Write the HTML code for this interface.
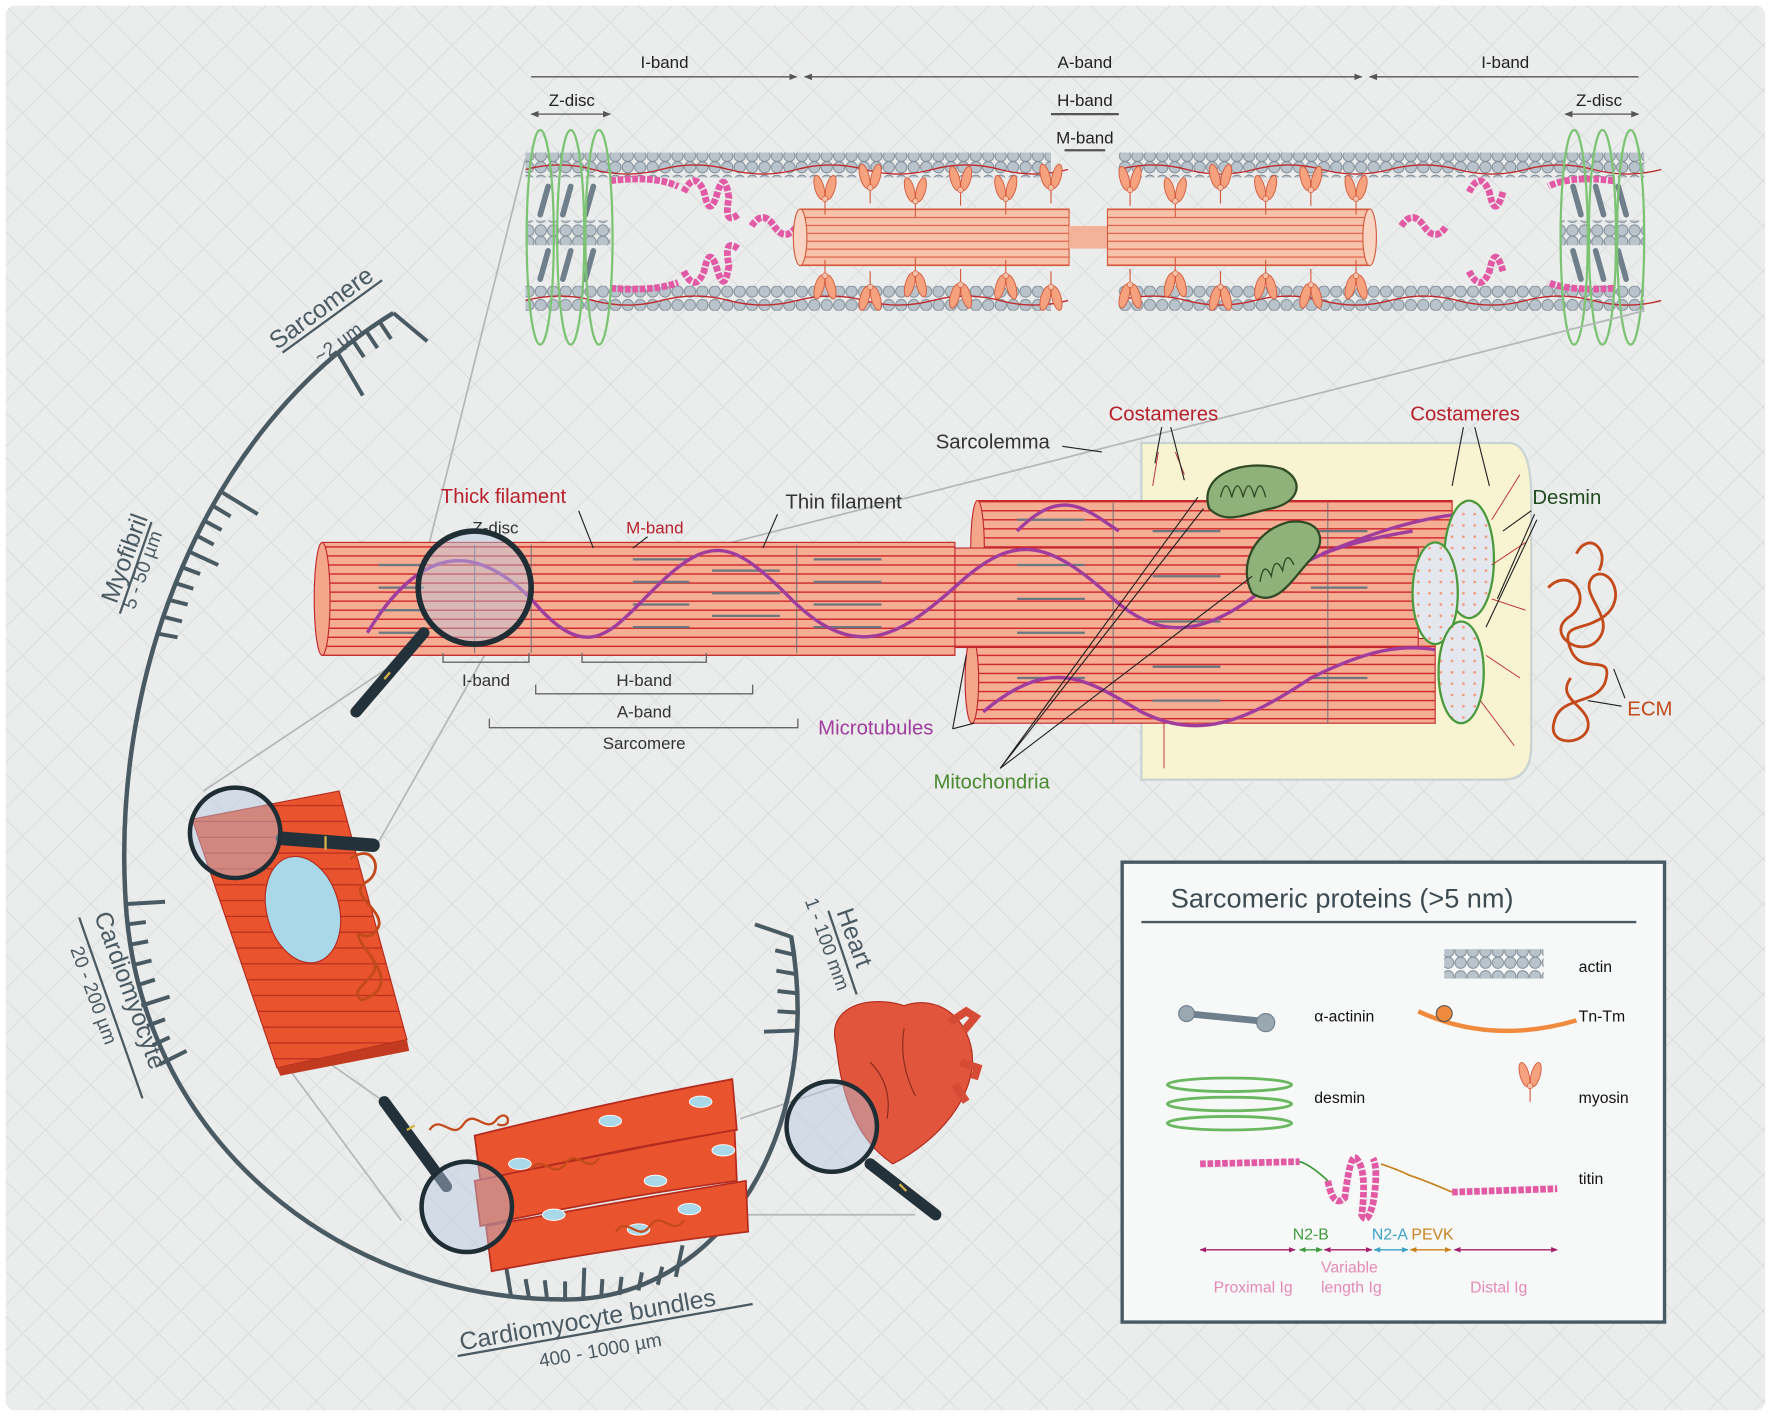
<!DOCTYPE html>
<html><head><meta charset="utf-8"><style>
html,body{margin:0;padding:0;background:#fff}
svg{display:block}
text{font-family:"Liberation Sans",Arial,sans-serif}
</style></head><body>
<svg width="1772" height="1417" viewBox="0 0 1568 1254" xmlns="http://www.w3.org/2000/svg">
<defs>
<pattern id="grid" width="40" height="40" patternUnits="userSpaceOnUse">
<path d="M0,0 L40,40 M40,0 L0,40" stroke="#dcdede" stroke-width="1"/>
</pattern>
<pattern id="beads" width="11" height="22" patternUnits="userSpaceOnUse">
<circle cx="5.5" cy="6" r="5" fill="#b9c3cb" stroke="#7d8a94" stroke-width="0.8"/>
<circle cx="5.5" cy="16" r="5" fill="#b9c3cb" stroke="#7d8a94" stroke-width="0.8"/>
</pattern>
<pattern id="stripes" width="20" height="8" patternUnits="userSpaceOnUse">
<rect width="20" height="8" fill="#f5ad93"/>
<line x1="0" y1="4" x2="20" y2="4" stroke="#d0282b" stroke-width="1.2"/>
</pattern>
<pattern id="thick" width="20" height="7" patternUnits="userSpaceOnUse">
<rect width="20" height="7" fill="#f7c2aa"/>
<line x1="0" y1="3.5" x2="20" y2="3.5" stroke="#e0614a" stroke-width="1"/>
</pattern>
<pattern id="slab" width="20" height="14" patternUnits="userSpaceOnUse">
<rect width="20" height="14" fill="#e9532e"/>
<line x1="0" y1="13" x2="20" y2="13" stroke="#b32a1e" stroke-width="1"/>
</pattern>
<pattern id="dots" width="10" height="10" patternUnits="userSpaceOnUse">
<rect width="10" height="10" fill="#e4e7ee"/>
<circle cx="5" cy="5" r="1.2" fill="#f09a7a"/>
</pattern>
<marker id="ar" viewBox="0 0 10 10" refX="9" refY="5" markerWidth="6" markerHeight="6" orient="auto-start-reverse"><path d="M0,1 L10,5 L0,9 z" fill="#555"/></marker>
<marker id="am" viewBox="0 0 10 10" refX="9" refY="5" markerWidth="5" markerHeight="5" orient="auto-start-reverse"><path d="M0,1 L10,5 L0,9 z" fill="#a3206e"/></marker>
<marker id="ag" viewBox="0 0 10 10" refX="9" refY="5" markerWidth="5" markerHeight="5" orient="auto-start-reverse"><path d="M0,1 L10,5 L0,9 z" fill="#3f9a3c"/></marker>
<marker id="ab" viewBox="0 0 10 10" refX="9" refY="5" markerWidth="5" markerHeight="5" orient="auto-start-reverse"><path d="M0,1 L10,5 L0,9 z" fill="#3ba3c8"/></marker>
<marker id="ao" viewBox="0 0 10 10" refX="9" refY="5" markerWidth="5" markerHeight="5" orient="auto-start-reverse"><path d="M0,1 L10,5 L0,9 z" fill="#c8821e"/></marker>
<g id="myo"><line x1="0" y1="0" x2="0" y2="-14" stroke="#d35a3c" stroke-width="1"/><ellipse cx="-5" cy="-24" rx="4" ry="11" fill="#f7a27f" stroke="#d35a3c" stroke-width="0.8" transform="rotate(-15 -5 -24)"/><ellipse cx="5" cy="-24" rx="4" ry="11" fill="#f7a27f" stroke="#d35a3c" stroke-width="0.8" transform="rotate(15 5 -24)"/><circle cx="0" cy="-14" r="2.5" fill="#f7c2aa" stroke="#d35a3c" stroke-width="0.6"/></g>
<g id="mag"><line x1="0" y1="0" x2="-60" y2="70" stroke="#23323a" stroke-width="10" stroke-linecap="round"/><line x1="-30" y1="35" x2="-35" y2="41" stroke="#d9b44a" stroke-width="2"/></g>
</defs>

<rect width="1568" height="1254" fill="#fff"/>
<rect x="5" y="5" width="1557" height="1243" rx="8" fill="#ebecec"/>
<rect x="5" y="5" width="1557" height="1243" rx="8" fill="url(#grid)"/>

<g font-size="15" fill="#222" text-anchor="middle">
<text x="588" y="60">I-band</text><text x="960" y="60">A-band</text><text x="1332" y="60">I-band</text>
<text x="506" y="94">Z-disc</text><text x="960" y="94">H-band</text><text x="960" y="127">M-band</text><text x="1415" y="94">Z-disc</text>
</g>
<g stroke="#555" stroke-width="1.2">
<line x1="470" y1="68" x2="705" y2="68" marker-end="url(#ar)"/>
<line x1="712" y1="68" x2="1205" y2="68" marker-start="url(#ar)" marker-end="url(#ar)"/>
<line x1="1212" y1="68" x2="1450" y2="68" marker-start="url(#ar)"/>
<line x1="470" y1="101" x2="540" y2="101" marker-start="url(#ar)" marker-end="url(#ar)"/>
<line x1="930" y1="101" x2="990" y2="101" stroke-width="2"/>
<line x1="942" y1="133" x2="978" y2="133" stroke-width="2"/>
<line x1="1385" y1="101" x2="1450" y2="101" marker-start="url(#ar)" marker-end="url(#ar)"/>
</g>

<g>
<rect x="465" y="135" width="465" height="22" fill="url(#beads)"/>
<rect x="990" y="135" width="465" height="22" fill="url(#beads)"/>
<rect x="465" y="253" width="465" height="22" fill="url(#beads)"/>
<rect x="990" y="253" width="465" height="22" fill="url(#beads)"/>
<rect x="465" y="195" width="75" height="22" fill="url(#beads)"/>
<rect x="1380" y="195" width="75" height="22" fill="url(#beads)"/>
<g stroke="#c0292c" stroke-width="1.2" fill="none">
<path d="M465,150 q30,-8 60,0 t60,0 t60,0 t60,0 t60,0 t60,0 t60,0 t60,0"/>
<path d="M990,150 q30,-8 60,0 t60,0 t60,0 t60,0 t60,0 t60,0 t60,0 t60,0"/>
<path d="M465,266 q30,-8 60,0 t60,0 t60,0 t60,0 t60,0 t60,0 t60,0 t60,0"/>
<path d="M990,266 q30,-8 60,0 t60,0 t60,0 t60,0 t60,0 t60,0 t60,0 t60,0"/>
</g>
<g stroke="#6f7f8b" stroke-width="5" stroke-linecap="round">
<line x1="485" y1="165" x2="478" y2="190"/><line x1="505" y1="165" x2="498" y2="190"/><line x1="525" y1="165" x2="518" y2="190"/>
<line x1="485" y1="222" x2="478" y2="247"/><line x1="505" y1="222" x2="498" y2="247"/><line x1="525" y1="222" x2="518" y2="247"/>
<line x1="1392" y1="165" x2="1399" y2="190"/><line x1="1412" y1="165" x2="1419" y2="190"/><line x1="1432" y1="165" x2="1439" y2="190"/>
<line x1="1392" y1="222" x2="1399" y2="247"/><line x1="1412" y1="222" x2="1419" y2="247"/><line x1="1432" y1="222" x2="1439" y2="247"/>
</g>
<g stroke="#e35aa4" stroke-width="6" fill="none" stroke-dasharray="5 1.5">
<path d="M540,160 Q580,155 600,165"/><path d="M540,255 Q580,258 600,250"/>
<path d="M605,170 q10,-20 18,0 q5,25 12,0 q6,-20 10,5 q-5,25 8,15"/>
<path d="M605,240 q10,20 18,0 q5,-25 12,0 q6,20 10,-5 q-5,-25 8,-15"/>
<path d="M665,200 q10,-15 20,0 q10,15 20,0"/>
<path d="M1428,160 Q1390,155 1370,165"/><path d="M1428,255 Q1390,258 1370,250"/>
<path d="M1300,170 q10,-20 18,0 q5,25 12,0"/><path d="M1300,240 q10,20 18,0 q5,-25 12,0"/>
<path d="M1240,200 q10,-15 20,0 q10,15 20,0"/>
</g>
<rect x="708" y="185" width="238" height="50" fill="url(#thick)" stroke="#d35a3c"/>
<ellipse cx="708" cy="210" rx="6" ry="25" fill="#f9d4c2" stroke="#d35a3c"/>
<rect x="946" y="200" width="34" height="20" fill="#f2b39a"/>
<rect x="980" y="185" width="232" height="50" fill="url(#thick)" stroke="#d35a3c"/>
<ellipse cx="1212" cy="210" rx="6" ry="25" fill="#f9d4c2" stroke="#d35a3c"/>
<g>
<use href="#myo" x="730" y="190"/><use href="#myo" x="770" y="180"/><use href="#myo" x="810" y="192"/><use href="#myo" x="850" y="182"/><use href="#myo" x="890" y="190"/><use href="#myo" x="930" y="180"/>
<use href="#myo" x="1000" y="182"/><use href="#myo" x="1040" y="192"/><use href="#myo" x="1080" y="180"/><use href="#myo" x="1120" y="190"/><use href="#myo" x="1160" y="182"/><use href="#myo" x="1200" y="190"/>
<g transform="translate(0,420) scale(1,-1)">
<use href="#myo" x="730" y="190"/><use href="#myo" x="770" y="180"/><use href="#myo" x="810" y="192"/><use href="#myo" x="850" y="182"/><use href="#myo" x="890" y="190"/><use href="#myo" x="930" y="180"/>
<use href="#myo" x="1000" y="182"/><use href="#myo" x="1040" y="192"/><use href="#myo" x="1080" y="180"/><use href="#myo" x="1120" y="190"/><use href="#myo" x="1160" y="182"/><use href="#myo" x="1200" y="190"/>
</g></g>
<g fill="none" stroke="#7cc474" stroke-width="2">
<ellipse cx="478" cy="210" rx="12" ry="95"/><ellipse cx="505" cy="210" rx="12" ry="95"/><ellipse cx="530" cy="210" rx="12" ry="95"/>
<ellipse cx="1393" cy="210" rx="12" ry="95"/><ellipse cx="1418" cy="210" rx="12" ry="95"/><ellipse cx="1443" cy="210" rx="12" ry="95"/>
</g>
</g>

<g stroke="#b4b7b8" stroke-width="1.5" fill="none">
<line x1="465" y1="140" x2="380" y2="480"/>
<line x1="1455" y1="275" x2="470" y2="525"/>
<line x1="375" y1="570" x2="180" y2="700"/>
<line x1="440" y1="560" x2="335" y2="745"/>
<line x1="255" y1="945" x2="355" y2="1080"/>
<line x1="290" y1="940" x2="340" y2="975"/>
<line x1="655" y1="990" x2="745" y2="960"/>
<line x1="590" y1="1075" x2="810" y2="1075"/>
</g>

<path d="M348,277 C180,380 95,600 112,810 C130,1010 300,1150 500,1150 C640,1150 730,1000 700,828" fill="none" stroke="#4a5a63" stroke-width="4"/>
<g stroke="#4a5a63" stroke-width="3.5">
<line x1="348" y1="277" x2="378" y2="302"/><line x1="336" y1="285" x2="346" y2="300"/><line x1="324" y1="293" x2="334" y2="308"/><line x1="312" y1="301" x2="322" y2="316"/><line x1="298" y1="311" x2="321" y2="350"/>
<line x1="197" y1="436" x2="228" y2="455"/><line x1="189" y1="448" x2="204" y2="457"/><line x1="181" y1="461" x2="196" y2="469"/><line x1="174" y1="474" x2="189" y2="482"/><line x1="167" y1="488" x2="193" y2="500"/><line x1="161" y1="502" x2="177" y2="508"/><line x1="155" y1="516" x2="171" y2="521"/><line x1="150" y1="531" x2="166" y2="535"/><line x1="145" y1="546" x2="161" y2="550"/><line x1="141" y1="561" x2="157" y2="564"/>
<line x1="112" y1="800" x2="146" y2="798"/><line x1="113" y1="818" x2="129" y2="816"/><line x1="115" y1="836" x2="131" y2="833"/><line x1="118" y1="854" x2="134" y2="850"/><line x1="121" y1="872" x2="137" y2="867"/><line x1="125" y1="890" x2="150" y2="882"/><line x1="130" y1="908" x2="146" y2="902"/><line x1="135" y1="925" x2="150" y2="918"/><line x1="141" y1="942" x2="165" y2="930"/>
<line x1="452" y1="1146" x2="447" y2="1116"/><line x1="468" y1="1148" x2="465" y2="1132"/><line x1="484" y1="1149" x2="482" y2="1133"/><line x1="500" y1="1150" x2="500" y2="1134"/><line x1="516" y1="1149" x2="517" y2="1122"/><line x1="532" y1="1148" x2="533" y2="1132"/><line x1="548" y1="1146" x2="550" y2="1130"/><line x1="565" y1="1142" x2="568" y2="1126"/><line x1="582" y1="1137" x2="586" y2="1121"/><line x1="598" y1="1130" x2="604" y2="1102"/>
<line x1="700" y1="829" x2="668" y2="818"/><line x1="703" y1="845" x2="686" y2="841"/><line x1="704" y1="862" x2="687" y2="859"/><line x1="705" y1="879" x2="688" y2="877"/><line x1="705" y1="896" x2="688" y2="895"/><line x1="704" y1="912" x2="676" y2="913"/>
</g>
<g fill="#4a5a63" font-size="22">
<text transform="translate(245,310) rotate(-36)">Sarcomere</text>
<line x1="250" y1="312" x2="338" y2="248" stroke="#4a5a63" stroke-width="2"/>
<text font-size="17" transform="translate(283,322) rotate(-36)">~2 µm</text>
<text transform="translate(103,535) rotate(-70)">Myofibril</text>
<line x1="106" y1="543" x2="134" y2="462" stroke="#4a5a63" stroke-width="2"/>
<text font-size="17" transform="translate(119,540) rotate(-70)">5 - 50 µm</text>
<text transform="translate(83,810) rotate(70)">Cardiomyocyte</text>
<line x1="70" y1="812" x2="126" y2="972" stroke="#4a5a63" stroke-width="2"/>
<text font-size="17" transform="translate(62,840) rotate(70)">20 - 200 µm</text>
<text transform="translate(408,1195) rotate(-10)">Cardiomyocyte bundles</text>
<line x1="405" y1="1200" x2="666" y2="1154" stroke="#4a5a63" stroke-width="2"/>
<text font-size="17" transform="translate(478,1210) rotate(-10)">400 - 1000 µm</text>
<text transform="translate(740,807) rotate(70)">Heart</text>
<line x1="733" y1="806" x2="758" y2="880" stroke="#4a5a63" stroke-width="2"/>
<text font-size="17" transform="translate(712,797) rotate(70)">1 - 100 mm</text>
</g>

<path d="M1010,392 L1335,392 Q1355,392 1355,440 L1355,660 Q1355,690 1330,690 L1010,690 Z" fill="#f8f4d2" stroke="#c9d4d2" stroke-width="2"/>
<rect x="865" y="443" width="420" height="82" fill="url(#stripes)" stroke="#c0272d"/>
<ellipse cx="865" cy="484" rx="6" ry="41" fill="#f4a68a" stroke="#c0272d"/>
<rect x="860" y="565" width="410" height="75" fill="url(#stripes)" stroke="#c0272d"/>
<ellipse cx="860" cy="602" rx="6" ry="38" fill="#f4a68a" stroke="#c0272d"/>
<rect x="835" y="485" width="420" height="88" fill="url(#stripes)" stroke="#c0272d"/>
<ellipse cx="835" cy="529" rx="6" ry="44" fill="#f4a68a" stroke="#c0272d"/>
<rect x="285" y="480" width="560" height="100" fill="url(#stripes)" stroke="#c0272d"/>
<ellipse cx="285" cy="530" rx="7" ry="50" fill="#f4a68a" stroke="#c0272d"/>
<g stroke="#5f6b72" stroke-width="0.8" fill="none">
<path d="M420,482 L420,578 M470,482 L470,578 M705,482 L705,578 M985,445 L985,640 M1175,445 L1175,640"/>
</g>
<g stroke="#6a7780" stroke-width="2">
<path d="M335,500 h40 M335,520 h40 M335,540 h40 M335,560 h40 M560,495 h50 M560,515 h50 M560,535 h50 M560,555 h50 M630,505 h60 M630,525 h60 M630,545 h60 M720,495 h60 M720,515 h60 M720,535 h60 M720,555 h60 M900,460 h60 M900,500 h60 M900,530 h60 M900,560 h60 M900,600 h60 M1020,470 h60 M1020,510 h60 M1020,550 h60 M1020,590 h60 M1020,620 h60 M1160,470 h50 M1160,520 h50 M1160,600 h50"/>
</g>
<g stroke="#a03c9e" stroke-width="3" fill="none">
<path d="M325,560 C380,470 430,490 470,530 C520,590 540,560 580,520 C630,470 650,480 700,530 C760,590 800,560 850,515 C900,470 930,480 985,530 C1030,570 1070,560 1120,520 C1160,490 1190,480 1250,470"/>
<path d="M900,470 C940,430 960,450 990,470"/>
<path d="M870,630 C930,580 960,600 1010,630 C1060,655 1100,640 1160,600 C1210,575 1240,570 1270,575"/>
<path d="M1170,490 C1220,470 1250,460 1290,455"/>
</g>
<g fill="#8fb27a" stroke="#2f4a25" stroke-width="2">
<path d="M1070,450 C1060,420 1100,405 1135,415 C1155,425 1150,445 1125,450 C1100,455 1085,465 1070,450 Z"/>
<path d="M1108,525 C1095,500 1110,470 1140,462 C1170,458 1175,480 1160,495 C1145,510 1130,540 1108,525 Z"/>
</g>
<g stroke="#2f4a25" fill="none" stroke-width="1.2"><path d="M1080,440 q5,-20 10,0 q5,-20 10,0 q5,-20 10,0 q5,-20 10,0"/><path d="M1115,515 q3,-20 10,-5 q3,-20 10,-5 q3,-20 10,-5"/></g>
<g fill="url(#dots)" stroke="#4a9a3c" stroke-width="2">
<ellipse cx="1300" cy="495" rx="22" ry="52"/>
<ellipse cx="1270" cy="525" rx="20" ry="45"/>
<ellipse cx="1293" cy="595" rx="20" ry="45"/>
</g>
<g stroke="#c0272d" stroke-width="0.8"><path d="M1320,460 L1345,420 M1320,500 L1350,480 M1320,530 L1350,540 M1315,580 L1345,600 M1310,620 L1340,660 M1025,400 L1020,430 M1030,640 L1030,680 M1040,400 L1048,420"/></g>
<g stroke="#c34a1a" stroke-width="2.5" fill="none">
<path d="M1370,520 c20,-20 40,10 20,25 c-25,15 10,40 25,20 c15,-20 -20,-40 -5,-55 c15,-10 30,20 10,35 c-20,15 -40,5 -30,30 c10,25 40,0 30,30 c-10,20 -40,10 -45,35 c-5,20 25,20 30,5 c5,-20 -30,-25 -15,-45 M1395,490 c10,-20 30,-5 20,15"/>
</g>
<g font-size="18">
<text x="390" y="445" fill="#b8212b">Thick filament</text>
<text x="695" y="450" fill="#333">Thin filament</text>
<text x="554" y="472" fill="#b8212b" font-size="15">M-band</text>
<text x="418" y="472" fill="#333" font-size="15">Z-disc</text>
<text x="828" y="397" fill="#333">Sarcolemma</text>
<text x="981" y="372" fill="#b8212b">Costameres</text>
<text x="1248" y="372" fill="#b8212b">Costameres</text>
<text x="1356" y="446" fill="#1e4a1e">Desmin</text>
<text x="1440" y="633" fill="#c34a1a">ECM</text>
<text x="724" y="650" fill="#a03c9e">Microtubules</text>
<text x="826" y="698" fill="#4a8a30">Mitochondria</text>
</g>
<g stroke="#222" stroke-width="1" fill="none">
<path d="M512,452 L525,485 M573,475 L560,485 M688,455 L675,485 M940,395 L975,400 M1028,378 L1022,410 M1036,378 L1048,425 M1295,378 L1285,430 M1305,378 L1318,430 M1355,452 L1330,470 M1358,455 L1325,530 M1360,460 L1315,555 M1438,618 L1428,592 M1435,625 L1405,620 M843,645 L855,580 M843,645 L862,640 M885,680 L1065,450 M885,680 L1108,510 M885,680 L1060,440"/>
</g>
<g font-size="15" fill="#333" text-anchor="middle">
<text x="430" y="607">I-band</text><text x="570" y="607">H-band</text><text x="570" y="635">A-band</text><text x="570" y="663">Sarcomere</text>
</g>
<g stroke="#666" stroke-width="1.2" fill="none">
<path d="M392,578 v8 h76 v-8 M515,578 v8 h110 v-8 M474,606 v8 h192 v-8 M433,636 v8 h273 v-8"/>
</g>
<use href="#mag" x="375" y="560"/>
<circle cx="420" cy="520" r="50" fill="#b6c8e0" fill-opacity="0.45" stroke="#1f2e35" stroke-width="5"/>

<path d="M170,725 L300,700 L360,920 L245,945 Z" fill="url(#slab)" stroke="#b32a1e"/>
<path d="M245,945 L360,920 L362,930 L248,952 Z" fill="#c23a20"/>
<ellipse cx="268" cy="805" rx="32" ry="48" fill="#a9d8e8" stroke="#b32a1e" transform="rotate(-15 268 805)"/>
<path d="M310,760 c20,-15 30,10 15,20 c-20,10 15,25 10,40 c-10,20 -25,-5 -15,15 c15,20 30,40 0,50 c-15,-10 20,-20 10,-35" stroke="#c34a1a" stroke-width="2.5" fill="none"/>
<line x1="250" y1="742" x2="330" y2="748" stroke="#23323a" stroke-width="12" stroke-linecap="round"/>
<line x1="288" y1="740" x2="288" y2="752" stroke="#d9b44a" stroke-width="2"/>
<circle cx="208" cy="737" r="40" fill="#b6c8e0" fill-opacity="0.45" stroke="#1f2e35" stroke-width="4"/>

<g stroke="#b32a1e" stroke-width="1.5">
<path d="M420,1005 Q540,975 648,955 L652,1000 Q540,1018 425,1045 Z" fill="#e9532e"/>
<path d="M420,1045 Q540,1020 650,1000 L652,1045 Q540,1060 425,1085 Z" fill="#e9532e"/>
<path d="M430,1085 Q540,1065 660,1045 L662,1090 Q540,1105 435,1125 Z" fill="#e9532e"/>
</g>
<g fill="#a9d8e8" stroke="#fff" stroke-width="0.8">
<ellipse cx="540" cy="992" rx="10" ry="5"/><ellipse cx="620" cy="975" rx="10" ry="5"/><ellipse cx="460" cy="1030" rx="10" ry="5"/><ellipse cx="580" cy="1045" rx="10" ry="5"/><ellipse cx="640" cy="1018" rx="10" ry="5"/><ellipse cx="490" cy="1075" rx="10" ry="5"/><ellipse cx="610" cy="1070" rx="10" ry="5"/><ellipse cx="565" cy="1088" rx="10" ry="5"/>
</g>
<g stroke="#c34a1a" stroke-width="2" fill="none"><path d="M380,1000 c10,-15 20,10 30,-5 c10,-15 20,10 30,-5 c10,-10 15,10 0,5"/><path d="M470,1035 c10,-15 20,10 30,-5 c10,-15 20,10 30,-5"/><path d="M545,1090 c10,-15 20,10 30,-5 c10,-15 20,10 30,-5"/></g>
<line x1="340" y1="975" x2="395" y2="1050" stroke="#23323a" stroke-width="10" stroke-linecap="round"/>
<line x1="360" y1="1000" x2="367" y2="996" stroke="#d9b44a" stroke-width="2"/>
<circle cx="413" cy="1068" r="40" fill="#b6c8e0" fill-opacity="0.45" stroke="#1f2e35" stroke-width="4"/>

<path d="M740,925 C730,890 770,880 800,890 C830,880 855,900 860,930 C865,970 830,1010 790,1030 C760,1010 745,975 740,925 Z" fill="#e0553b" stroke="#b32a1e"/>
<path d="M840,905 l15,-10 l8,5 l-10,12 M850,940 l15,5 l-3,10 M845,960 l10,15" stroke="#d64b35" stroke-width="7" fill="none"/>
<path d="M770,940 q20,20 15,50 M800,910 q-5,30 10,60" stroke="#8a2a1e" stroke-width="1" fill="none"/>
<line x1="770" y1="1030" x2="828" y2="1075" stroke="#23323a" stroke-width="10" stroke-linecap="round"/>
<line x1="796" y1="1048" x2="802" y2="1054" stroke="#d9b44a" stroke-width="2"/>
<circle cx="736" cy="997" r="40" fill="#b6c8e0" fill-opacity="0.45" stroke="#1f2e35" stroke-width="4"/>

<rect x="993" y="763" width="480" height="407" fill="#f7f8f8" stroke="#4a5a63" stroke-width="3"/>
<text x="1036" y="803" font-size="24" fill="#3c4a52">Sarcomeric proteins (&gt;5 nm)</text>
<line x1="1010" y1="816" x2="1448" y2="816" stroke="#4a5a63" stroke-width="2"/>
<g font-size="14" fill="#111">
<text x="1397" y="860">actin</text><text x="1163" y="904">α-actinin</text><text x="1397" y="904">Tn-Tm</text>
<text x="1163" y="976">desmin</text><text x="1397" y="976">myosin</text><text x="1397" y="1048">titin</text>
</g>
<rect x="1278" y="840" width="88" height="26" fill="url(#beads)"/>
<g stroke="#6f7f8b" stroke-linecap="round"><line x1="1050" y1="897" x2="1120" y2="904" stroke-width="6"/><circle cx="1050" cy="897" r="7" fill="#9aa8b2"/><circle cx="1120" cy="905" r="8" fill="#9aa8b2"/></g>
<path d="M1255,895 Q1320,925 1395,903" stroke="#f08a3c" stroke-width="4" fill="none"/>
<circle cx="1278" cy="897" r="7" fill="#f08a3c" stroke="#555"/>
<g fill="none" stroke="#69b860" stroke-width="2.5"><ellipse cx="1088" cy="960" rx="55" ry="6"/><ellipse cx="1088" cy="977" rx="55" ry="6"/><ellipse cx="1088" cy="994" rx="55" ry="6"/></g>
<g transform="translate(1354,975)"><use href="#myo" x="0" y="0"/></g>
<g stroke="#e35aa4" stroke-width="6" fill="none" stroke-dasharray="5 1.5">
<path d="M1062,1030 L1150,1028"/><path d="M1175,1045 q5,25 15,15 q5,-40 10,-35 q10,10 5,50 q5,10 10,-10 q5,-30 0,-40"/><path d="M1285,1055 L1378,1052"/>
</g>
<path d="M1150,1028 q10,3 25,17" stroke="#3f9a3c" stroke-width="1.5" fill="none"/>
<path d="M1222,1030 q15,5 25,10 q15,5 38,15" stroke="#c8821e" stroke-width="1.5" fill="none"/>
<g stroke-width="1.2">
<line x1="1062" y1="1106" x2="1146" y2="1106" stroke="#a3206e" marker-start="url(#am)" marker-end="url(#am)"/>
<line x1="1150" y1="1106" x2="1170" y2="1106" stroke="#3f9a3c" marker-start="url(#ag)" marker-end="url(#ag)"/>
<line x1="1172" y1="1106" x2="1214" y2="1106" stroke="#a3206e" marker-start="url(#am)" marker-end="url(#am)"/>
<line x1="1216" y1="1106" x2="1246" y2="1106" stroke="#3ba3c8" marker-start="url(#ab)" marker-end="url(#ab)"/>
<line x1="1248" y1="1106" x2="1284" y2="1106" stroke="#c8821e" marker-start="url(#ao)" marker-end="url(#ao)"/>
<line x1="1287" y1="1106" x2="1378" y2="1106" stroke="#a3206e" marker-start="url(#am)" marker-end="url(#am)"/>
</g>
<g font-size="14">
<text x="1144" y="1097" fill="#3f9a3c">N2-B</text>
<text x="1214" y="1097" fill="#3ba3c8">N2-A</text><text x="1249" y="1097" fill="#c8821e">PEVK</text>
<text x="1169" y="1126" fill="#e58ab8">Variable</text><text x="1169" y="1144" fill="#e58ab8">length Ig</text>
<text x="1074" y="1144" fill="#e58ab8">Proximal Ig</text><text x="1301" y="1144" fill="#e58ab8">Distal Ig</text>
</g>
</svg>
</body></html>
